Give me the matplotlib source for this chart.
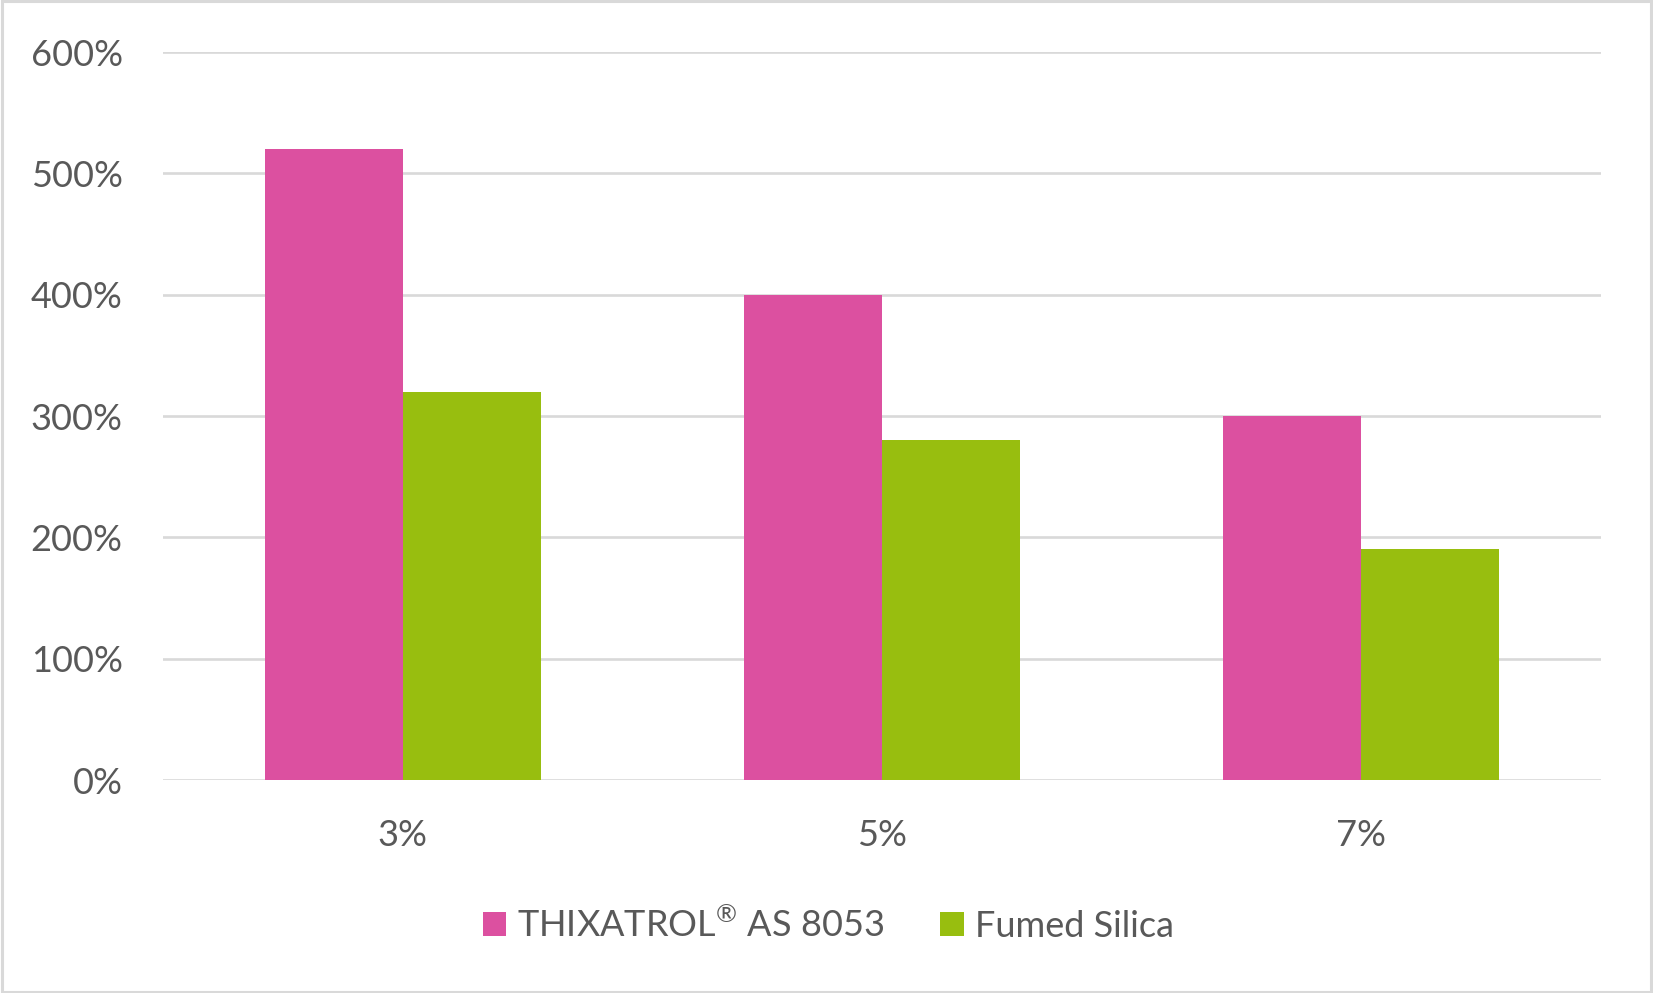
import matplotlib.pyplot as plt
import numpy as np
from matplotlib.patches import Rectangle, Patch

# data
categories = ['3%', '5%', '7%']
thixatrol = [5.2, 4.0, 3.0]
fumed_silica = [3.2, 2.8, 1.9]
series_names = [r'THIXATROL$^{\mathregular{®}}$ AS 8053', 'Fumed Silica']
y_ticks = [0, 1, 2, 3, 4, 5, 6]
y_tick_labels = ['0%', '100%', '200%', '300%', '400%', '500%', '600%']

pink = '#DC50A0'
green = '#98BE0F'
grid_gray = '#D9D9D9'
text_gray = '#595959'

plt.rcParams['font.family'] = ['Lato', 'DejaVu Sans']

fig = plt.figure(figsize=(16.53, 9.93), dpi=100)
ax = fig.add_axes([0.0986, 0.2145, 0.87, 0.7331])

x = np.arange(len(categories))
width = 0.288
ax.bar(x - width / 2, thixatrol, width, color=pink, zorder=3)
ax.bar(x + width / 2, fumed_silica, width, color=green, zorder=3)

ax.set_xlim(-0.5, 2.5)
ax.set_ylim(0, 6)
ax.set_yticks(y_ticks)
ax.set_yticklabels(y_tick_labels)
ax.set_xticks(x)
ax.set_xticklabels(categories)
ax.yaxis.grid(True, color=grid_gray, linewidth=1.9, zorder=0)
ax.set_axisbelow(True)
for s in ax.spines.values():
    s.set_visible(False)
ax.tick_params(axis='both', length=0, labelsize=26, colors=text_gray)
ax.tick_params(axis='y', pad=29)
ax.tick_params(axis='x', pad=28)

# legend
handles = [Patch(facecolor=pink), Patch(facecolor=green)]
leg = fig.legend(handles, series_names, loc='center', bbox_to_anchor=(0.501, 0.069),
                 ncol=2, frameon=False, fontsize=26, handlelength=0.65, handleheight=0.65,
                 handletextpad=0.3, columnspacing=1.55)
for t in leg.get_texts():
    t.set_color(text_gray)

# outer border
fig.patches.append(Rectangle((0.001, 0.0015), 0.998, 0.997, transform=fig.transFigure,
                             fill=False, edgecolor=grid_gray, linewidth=2.2))

fig.savefig('out.png', dpi=100)
